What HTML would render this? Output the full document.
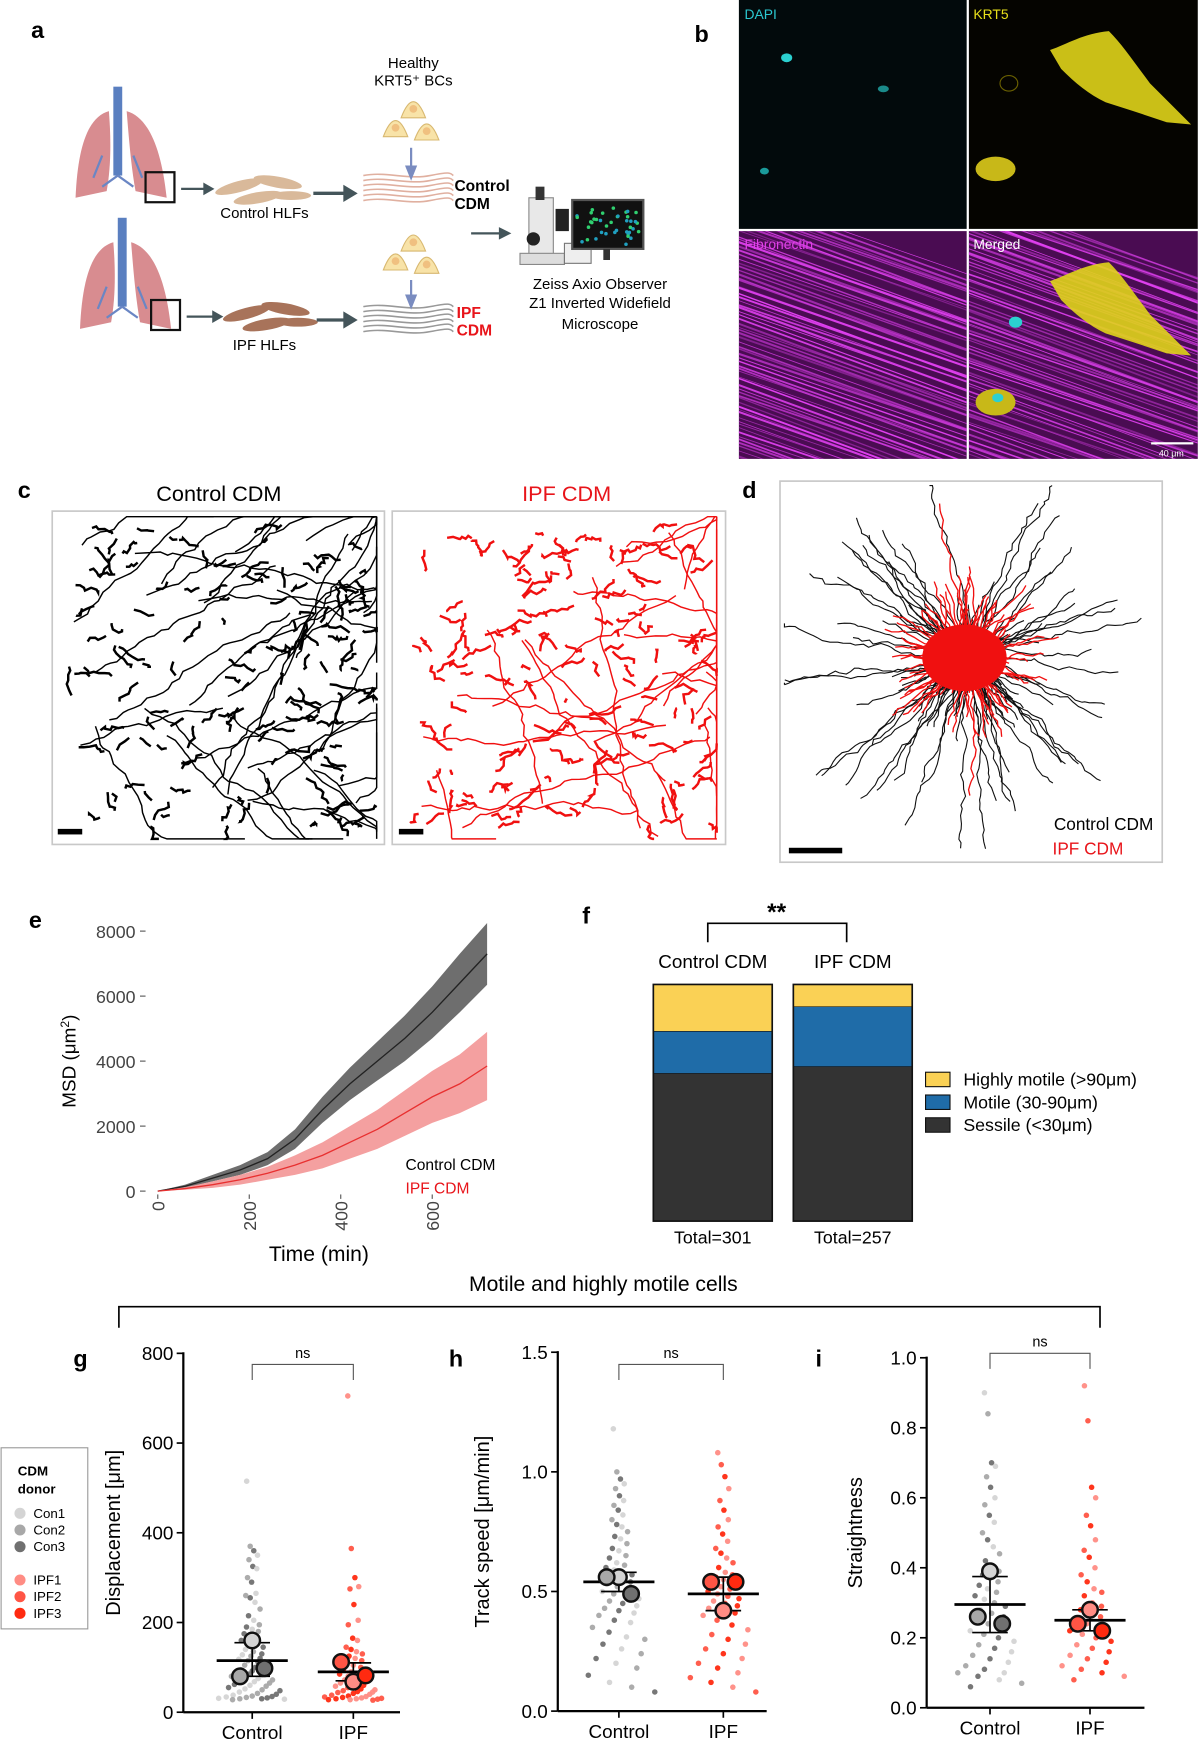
<!DOCTYPE html>
<html><head><meta charset="utf-8">
<style>
html,body{margin:0;padding:0;background:#fff;}
svg{display:block;font-family:"Liberation Sans",Arial,sans-serif;}
</style></head>
<body>
<svg id="fig" width="1200" height="1743" viewBox="0 0 1080 1568.7" xmlns="http://www.w3.org/2000/svg">
<g font-weight="bold" font-size="21">
<text x="28" y="34">a</text><text x="625" y="38">b</text><text x="16" y="448">c</text>
<text x="668" y="448">d</text><text x="26" y="835">e</text><text x="524" y="831">f</text>
<text x="66" y="1230">g</text><text x="404" y="1230">h</text><text x="734" y="1230">i</text>
</g>

<g id="panelA">
  <g id="lung1">
    <path d="M98,100 C80,105 70,130 68,178 L96,172 C100,150 100,125 98,100Z" fill="#d88c90"/>
    <path d="M114,100 C132,105 145,130 150,178 L122,172 C118,150 116,125 114,100Z" fill="#d88c90"/>
    <rect x="102" y="78" width="8" height="80" fill="#5a7fc0"/>
    <path d="M106,158 L92,168 M106,158 L120,168 M92,140 L84,160 M120,140 L128,160" stroke="#6a86c4" stroke-width="2" fill="none"/>
    <rect x="131" y="155" width="26" height="27" fill="none" stroke="#111" stroke-width="2"/>
  </g>
  <g id="lung2">
    <path d="M102,218 C84,223 74,248 72,296 L100,290 C104,268 104,243 102,218Z" fill="#d88c90"/>
    <path d="M118,218 C136,223 149,248 154,296 L126,290 C122,268 120,243 118,218Z" fill="#d88c90"/>
    <rect x="106" y="196" width="8" height="80" fill="#5a7fc0"/>
    <path d="M110,276 L96,286 M110,276 L124,286 M96,258 L88,278 M124,258 L132,278" stroke="#6a86c4" stroke-width="2" fill="none"/>
    <rect x="136" y="270" width="26" height="27" fill="none" stroke="#111" stroke-width="2"/>
  </g>
  <g fill="#d9b99a">
    <ellipse cx="215" cy="168" rx="22" ry="5" transform="rotate(-15 215 168)"/>
    <ellipse cx="250" cy="164" rx="22" ry="5" transform="rotate(10 250 164)"/>
    <ellipse cx="232" cy="178" rx="22" ry="5" transform="rotate(-10 232 178)"/>
    <ellipse cx="262" cy="176" rx="18" ry="4"/>
  </g>
  <g fill="#a8735a">
    <ellipse cx="222" cy="282" rx="22" ry="5" transform="rotate(-15 222 282)"/>
    <ellipse cx="257" cy="278" rx="22" ry="5" transform="rotate(10 257 278)"/>
    <ellipse cx="240" cy="292" rx="22" ry="5" transform="rotate(-10 240 292)"/>
    <ellipse cx="268" cy="290" rx="18" ry="4"/>
  </g>
  <g id="cdmLines"></g>
  <g id="bcells"></g>
  <g stroke="#44555a" stroke-width="2" fill="#44555a">
    <line x1="163" y1="170" x2="184" y2="170"/><path d="M184,166 L191,170 L184,174Z"/>
    <line x1="168" y1="285" x2="192" y2="285"/><path d="M192,281 L199,285 L192,289Z"/>
    <line x1="282" y1="174" x2="312" y2="174" stroke-width="3"/><path d="M310,168 L320,174 L310,180Z"/>
    <line x1="285" y1="288" x2="312" y2="288" stroke-width="3"/><path d="M310,282 L320,288 L310,294Z"/>
    <line x1="424" y1="210" x2="450" y2="210"/><path d="M450,206 L458,210 L450,214Z"/>
  </g>
  <g stroke="#7a8cc0" stroke-width="2" fill="#7a8cc0">
    <line x1="370" y1="133" x2="370" y2="152"/><path d="M366,150 L370,160 L374,150Z"/>
    <line x1="370" y1="252" x2="370" y2="268"/><path d="M366,266 L370,276 L374,266Z"/>
  </g>
  <g>
    <rect x="476" y="178" width="22" height="55" fill="#e8e8e8" stroke="#888"/>
    <rect x="468" y="228" width="40" height="10" fill="#ddd" stroke="#888"/>
    <circle cx="480" cy="215" r="6" fill="#222"/><rect x="482" y="168" width="8" height="12" fill="#333"/>
    <rect x="500" y="188" width="12" height="20" fill="#222"/>
    <rect x="508" y="219" width="24" height="18" fill="#eee" stroke="#777"/>
    <rect x="515" y="180" width="64" height="44" fill="#111" stroke="#555" stroke-width="2"/>
    <rect x="543" y="224" width="6" height="10" fill="#333"/>
    <g id="monitorDots"></g>
  </g>
  <g font-size="13.5" text-anchor="middle">
    <text x="372" y="61">Healthy</text><text x="372" y="77">KRT5⁺ BCs</text>
    <text x="238" y="196">Control HLFs</text><text x="238" y="315">IPF HLFs</text>
    <text x="540" y="260">Zeiss Axio Observer</text><text x="540" y="277">Z1 Inverted Widefield</text>
    <text x="540" y="296">Microscope</text>
    <text x="409" y="172" text-anchor="start" font-weight="bold" font-size="14">Control</text>
    <text x="409" y="188" text-anchor="start" font-weight="bold" font-size="14">CDM</text>
    <text x="411" y="286" text-anchor="start" font-weight="bold" font-size="14" fill="#e8141a">IPF</text>
    <text x="411" y="302" text-anchor="start" font-weight="bold" font-size="14" fill="#e8141a">CDM</text>
  </g>
</g>

<g id="panelB">
  <defs>
    <clipPath id="cpFib"><rect x="665" y="208" width="205" height="205"/></clipPath>
    <clipPath id="cpMer"><rect x="872" y="208" width="206" height="205"/></clipPath>
  </defs>
  <rect x="665" y="0" width="205" height="206" fill="#020a0c"/>
  <rect x="872" y="0" width="206" height="206" fill="#050400"/>
  <rect x="665" y="208" width="205" height="205" fill="#4a0c52"/>
  <rect x="872" y="208" width="206" height="205" fill="#4a0c52"/>
  <g id="fibLines" clip-path="url(#cpFib)"></g>
  <g id="merLines" clip-path="url(#cpMer)"></g>
  <ellipse cx="708" cy="52" rx="5" ry="4" fill="#2bd0d0"/><ellipse cx="795" cy="80" rx="5" ry="3" fill="#1a8a8a"/>
  <ellipse cx="688" cy="154" rx="4" ry="3" fill="#1a9a9a"/>
  <path d="M945,45 C960,40 975,30 998,28 C1010,40 1020,55 1035,75 L1072,112 L1050,110 L1020,100 L995,92 C980,85 968,75 955,62Z" fill="#e0d41a" opacity="0.9"/>
  <ellipse cx="896" cy="152" rx="18" ry="11" fill="#c8b818"/>
  <ellipse cx="908" cy="75" rx="8" ry="7" fill="none" stroke="#6a6000"/>
  <path d="M945,253 C960,248 975,238 998,236 C1010,248 1020,263 1035,283 L1072,320 L1050,318 L1020,308 L995,300 C980,293 968,283 955,270Z" fill="#e0d41a" opacity="0.9"/>
  <ellipse cx="896" cy="362" rx="18" ry="12" fill="#c8b818"/>
  <ellipse cx="914" cy="290" rx="6" ry="5" fill="#2bd0d0"/><ellipse cx="898" cy="358" rx="5" ry="4" fill="#2bd0d0"/>
  <rect x="1036" y="398" width="38" height="2" fill="#fff"/>
  <g font-size="12.5">
    <text x="670" y="17" fill="#2bc8d0">DAPI</text><text x="876" y="17" fill="#e8e01a">KRT5</text>
    <text x="670" y="224" fill="#e040e8">Fibronectin</text><text x="876" y="224" fill="#fff">Merged</text>
    <text x="1043" y="411" fill="#fff" font-size="8">40 μm</text>
  </g>
</g>

<g id="panelC">
  <text x="197" y="451" font-size="19.5" text-anchor="middle">Control CDM</text>
  <text x="510" y="451" font-size="19.5" text-anchor="middle" fill="#e8141a">IPF CDM</text>
  <rect x="47" y="460" width="299" height="300" fill="none" stroke="#c8c8c8" stroke-width="1.5"/>
  <rect x="353" y="460" width="300" height="300" fill="none" stroke="#c8c8c8" stroke-width="1.5"/>
  <g id="tracksCon"></g><g id="tracksIpf"></g>
  <rect x="52" y="746" width="22" height="5" fill="#000"/><rect x="359" y="746" width="22" height="5" fill="#000"/>
</g>

<g id="panelD">
  <rect x="702" y="433" width="344" height="343" fill="none" stroke="#c8c8c8" stroke-width="1.5"/>
  <g id="starCon"></g><g id="starIpf"></g>
  <rect x="710" y="763" width="48" height="5" fill="#000"/>
  <text x="1038" y="747" font-size="15.5" text-anchor="end">Control CDM</text>
  <text x="1011" y="769" font-size="15.5" text-anchor="end" fill="#e8141a">IPF CDM</text>
</g>

<g id="panelE"></g>
<g id="panelF"></g>

<g>
  <text x="543" y="1162" font-size="19" text-anchor="middle">Motile and highly motile cells</text>
  <path d="M107,1195 L107,1176 L990,1176 L990,1195" fill="none" stroke="#000" stroke-width="1.5"/>
</g>

<g>
  <rect x="1" y="1303" width="78" height="163" fill="#fff" stroke="#999"/>
  <text x="16" y="1328" font-size="12" font-weight="bold">CDM</text>
  <text x="16" y="1344" font-size="12" font-weight="bold">donor</text>
  <g id="legendItems"></g>
</g>

<g id="panelG"></g>
<g id="panelH"></g>
<g id="panelI"></g>
</svg>

<script>
const msdTimes = [0,60,120,180,240,300,360,420,480,540,600,660,720];
const msdControl = [0,150,400,650,1000,1600,2500,3300,4000,4700,5500,6400,7300];
const msdControlErr = [0,50,100,150,200,300,400,500,600,700,800,900,950];
const msdIpf = [0,80,200,350,550,800,1100,1500,1900,2400,2900,3300,3850];
const msdIpfErr = [0,40,100,150,200,300,400,500,600,700,800,900,1050];
const msdTicksX = [0,200,400,600];
const msdTicksY = [0,2000,4000,6000,8000];

const motCategories = ["Control CDM","IPF CDM"];
const motTotals = ["Total=301","Total=257"];
const sessilePct = [62.4,65.3];
const motilePct = [17.8,25.3];
const highlyPct = [19.8,9.4];
const motLegend = ["Highly motile (>90μm)","Motile (30-90μm)","Sessile (<30μm)"];

const groups = ["Control","IPF"];
const dispControl = [515,370,360,350,340,325,320,300,290,265,260,255,245,230,215,205,195,190,185,180,175,170,165,160,155,150,145,140,135,130,128,125,120,118,115,112,110,105,100,98,95,92,90,88,85,82,80,78,75,72,70,68,65,62,60,58,55,52,50,48,45,42,40,38,36,35,34,33,32,31,30,30,29,28];
const dispIpf = [705,365,300,280,275,240,205,195,165,160,145,140,135,130,125,120,115,110,105,100,95,90,88,85,80,78,75,72,70,68,65,62,60,58,55,52,50,48,46,45,44,42,40,38,36,35,34,33,32,31,30,30,29,28,28,27];
const dispDonorMeans = [[160,80,98],[68,112,82]];
const dispMean = [115,90];
const dispErr = [[80,155],[70,110]];
const speedControl = [1.18,1.0,0.97,0.95,0.93,0.9,0.88,0.86,0.84,0.82,0.8,0.78,0.77,0.75,0.73,0.72,0.7,0.68,0.67,0.65,0.64,0.62,0.61,0.6,0.59,0.58,0.57,0.56,0.55,0.54,0.53,0.52,0.51,0.5,0.49,0.48,0.47,0.46,0.45,0.44,0.43,0.42,0.41,0.4,0.38,0.37,0.35,0.33,0.31,0.3,0.28,0.26,0.24,0.22,0.2,0.18,0.15,0.12,0.1,0.08];
const speedIpf = [1.08,1.03,0.98,0.93,0.88,0.84,0.8,0.77,0.74,0.71,0.68,0.66,0.64,0.62,0.6,0.58,0.57,0.56,0.55,0.54,0.53,0.52,0.51,0.5,0.49,0.48,0.47,0.46,0.45,0.44,0.43,0.42,0.41,0.4,0.38,0.36,0.34,0.32,0.3,0.28,0.26,0.24,0.22,0.2,0.18,0.16,0.14,0.12,0.1,0.08];
const speedDonorMeans = [[0.56,0.56,0.49],[0.42,0.54,0.54]];
const speedMean = [0.54,0.49];
const speedErr = [[0.50,0.58],[0.42,0.56]];
const straightControl = [0.9,0.84,0.7,0.69,0.66,0.63,0.6,0.58,0.55,0.53,0.5,0.48,0.46,0.44,0.42,0.4,0.39,0.38,0.37,0.36,0.35,0.34,0.33,0.32,0.31,0.3,0.29,0.28,0.27,0.26,0.25,0.24,0.23,0.22,0.21,0.2,0.19,0.18,0.17,0.16,0.15,0.14,0.13,0.12,0.11,0.1,0.1,0.09,0.08,0.07,0.06];
const straightIpf = [0.92,0.82,0.63,0.6,0.55,0.52,0.48,0.45,0.43,0.4,0.38,0.36,0.34,0.33,0.32,0.3,0.29,0.28,0.27,0.26,0.25,0.24,0.23,0.22,0.21,0.2,0.19,0.18,0.17,0.16,0.15,0.14,0.13,0.12,0.11,0.1,0.09,0.08];
const straightDonorMeans = [[0.39,0.26,0.24],[0.28,0.24,0.22]];
const straightMean = [0.295,0.25];
const straightErr = [[0.215,0.375],[0.22,0.28]];
const donorNames = ["Con1","Con2","Con3","IPF1","IPF2","IPF3"];

const NS = "http://www.w3.org/2000/svg";
function mk(tag, attrs, parent){const e=document.createElementNS(NS,tag);for(const k in attrs)e.setAttribute(k,attrs[k]);if(parent)parent.appendChild(e);return e;}
function txt(str, attrs, parent){const e=mk("text",attrs,parent);e.textContent=str;return e;}
let seed=12345;function rnd(){seed=(seed*1103515245+12345)%2147483648;return seed/2147483648;}
const donorCols=[["#d4d4d4","#a8a8a8","#707070"],["#ff8c84","#ff5545","#ff2a10"]];

(function(){
  const g=document.getElementById("cdmLines");
  for(let k=0;k<2;k++){const y0=k?276:158;const col=k?"#999":"#e0b0a0";
    for(let i=0;i<6;i++){const y=y0+i*4.5;mk("path",{d:`M327,${y} C347,${y-4} 367,${y+4} 387,${y} S405,${y-2} 408,${y}`,stroke:col,"stroke-width":1.4,fill:"none"},g);}}
  const b=document.getElementById("bcells");
  [[372,95],[356,112],[384,115],[372,215],[356,232],[384,235]].forEach(p=>{
    mk("path",{d:`M${p[0]-11},${p[1]+11} Q${p[0]},${p[1]-18} ${p[0]+11},${p[1]+11}Z`,fill:"#f8e3a8",stroke:"#d8b870"},b);
    mk("circle",{cx:p[0],cy:p[1]+3,r:3.5,fill:"#f0c080"},b);});
  const m=document.getElementById("monitorDots");
  for(let i=0;i<40;i++)mk("circle",{cx:519+rnd()*56,cy:184+rnd()*36,r:1.6,fill:rnd()>0.5?"#30d070":"#20a0c0"},m);
})();
["fibLines","merLines"].forEach((id,k)=>{
  const g=document.getElementById(id);const x0=k?872:665;
  for(let i=0;i<110;i++){const yy=170+i*3.4+rnd()*3;const op=0.35+rnd()*0.65;
    mk("line",{x1:x0-10,y1:yy,x2:x0+215,y2:yy+75+rnd()*10,stroke:"#e040f0","stroke-width":0.6+rnd()*1.4,opacity:op},g);}
});
function tracks(id,x0,col){
  const g=document.getElementById(id);
  for(let i=0;i<170;i++){let x=x0+15+rnd()*270,y=475+rnd()*270;const long=rnd()<0.18;const n=long?18+Math.floor(rnd()*20):3+Math.floor(rnd()*6);
    const ang=(rnd()<0.6?-0.5:0.7)+ (rnd()-0.5)*1.5;let d=`M${x.toFixed(1)},${y.toFixed(1)}`;
    for(let j=0;j<n;j++){const s=long?7:3;x+=Math.cos(ang)*s+(rnd()-0.5)*6;y+=Math.sin(ang)*s+(rnd()-0.5)*6;
      x=Math.max(x0+5,Math.min(x0+292,x));y=Math.max(465,Math.min(755,y));d+=` L${x.toFixed(1)},${y.toFixed(1)}`;}
    mk("path",{d:d,stroke:col,"stroke-width":long?1.3:2.2,fill:"none"},g);}
}
tracks("tracksCon",47,"#000");tracks("tracksIpf",353,"#f01010");
function star(id,col,n,maxR,w){
  const g=document.getElementById(id);
  for(let i=0;i<n;i++){let x=870,y=592;const a=rnd()*Math.PI*2;const L=(rnd()<0.3?0.6+rnd()*0.4:rnd()*0.5)*maxR;const steps=Math.max(3,Math.floor(L/5));
    let d=`M${x},${y}`;for(let j=0;j<steps;j++){x+=Math.cos(a)*5+(rnd()-0.5)*5;y+=Math.sin(a)*5+(rnd()-0.5)*5;
      x=Math.max(706,Math.min(1042,x));y=Math.max(437,Math.min(772,y));d+=` L${x.toFixed(1)},${y.toFixed(1)}`;}
    mk("path",{d:d,stroke:col,"stroke-width":w,fill:"none"},g);}
}
star("starCon","#111",160,175,1);star("starIpf","#f01010",220,80,1.2);star("starIpf","#f01010",8,180,1.2);
mk("ellipse",{cx:868,cy:592,rx:38,ry:30,fill:"#f01010"},document.getElementById("starIpf"));

(function(){
  const g=document.getElementById("panelE");
  const X=t=>142+t*(389-142)/600, Y=v=>1072-v*(1072-838)/8000;
  msdTicksY.forEach(v=>{const t=txt(String(v),{x:122,y:Y(v)+6,"font-size":16,"text-anchor":"end",fill:"#444"},g);
    
    mk("line",{x1:126,y1:Y(v),x2:131,y2:Y(v),stroke:"#555"},g);});
  msdTicksX.forEach(v=>{const t=txt(String(v),{x:0,y:0,"font-size":16,"text-anchor":"end",fill:"#444",transform:`translate(${X(v)+6},1081) rotate(-90)`},g);
    
    mk("line",{x1:X(v),y1:1075,x2:X(v),y2:1079,stroke:"#555"},g);});
  function band(m,e,fill,stroke,name){
    let up=msdTimes.map((t,i)=>`${X(t).toFixed(1)},${Y(m[i]+e[i]).toFixed(1)}`);
    let dn=msdTimes.map((t,i)=>`${X(t).toFixed(1)},${Y(Math.max(0,m[i]-e[i])).toFixed(1)}`).reverse();
    const p=mk("polygon",{points:up.concat(dn).join(" "),fill:fill},g);
    
    const l=mk("polyline",{points:msdTimes.map((t,i)=>`${X(t).toFixed(1)},${Y(m[i]).toFixed(1)}`).join(" "),fill:"none",stroke:stroke,"stroke-width":1.2},g);
    }
  band(msdControl,msdControlErr,"#6e6e6e","#222","control-msd");
  band(msdIpf,msdIpfErr,"#f4a0a0","#e83030","ipf-msd");
  const yt=txt("MSD (μm",{x:0,y:0,"font-size":17,"text-anchor":"middle",transform:"translate(68,955) rotate(-90)"},g);
  const sup=mk("tspan",{"font-size":11,dy:-6},yt);sup.textContent="2";const cl=mk("tspan",{dy:6},yt);cl.textContent=")";
  
  const xt=txt("Time (min)",{x:287,y:1135,"font-size":19,"text-anchor":"middle"},g);
  
  txt("Control CDM",{x:365,y:1053,"font-size":14},g);
  txt("IPF CDM",{x:365,y:1074,"font-size":14,fill:"#e8141a"},g);
})();

(function(){
  const g=document.getElementById("panelF");
  const xs=[588,714],w=107,top=886,bot=1099,H=bot-top;
  const cols=["#fad155","#1f6ca8","#333333"];
  motCategories.forEach((c,i)=>{
    let y=bot;
    [[sessilePct[i],cols[2],"sessile"],[motilePct[i],cols[1],"motile"],[highlyPct[i],cols[0],"highly-motile"]].forEach(s=>{
      const h=s[0]/100*H;y-=h;const r=mk("rect",{x:xs[i],y:y,width:w,height:h,fill:s[1],stroke:"#111","stroke-width":0.5},g);
      });
    mk("rect",{x:xs[i],y:top,width:w,height:H,fill:"none",stroke:"#111","stroke-width":1.5},g);
    txt(c,{x:xs[i]+w/2,y:871,"font-size":17,"text-anchor":"middle"},g);
    txt(motTotals[i],{x:xs[i]+w/2,y:1119,"font-size":16,"text-anchor":"middle"},g);
  });
  mk("path",{d:"M637,848 L637,831 L762,831 L762,848",fill:"none",stroke:"#000","stroke-width":1.5},g);
  txt("**",{x:699,y:828,"font-size":22,"font-weight":"bold","text-anchor":"middle"},g);
  motLegend.forEach((l,i)=>{const y=965+i*20.5;
    const r=mk("rect",{x:833,y:y,width:22,height:13,fill:cols[i],stroke:"#111"},g);
    
    txt(l,{x:867,y:y+12,"font-size":16},g);});
})();

(function(){
  const g=document.getElementById("legendItems");
  donorNames.forEach((n,i)=>{const y=i<3?1362+i*15:1422+(i-3)*15;const c=donorCols[i<3?0:1][i%3];
    const d=mk("circle",{cx:18,cy:y,r:5,fill:c},g);
    txt(n,{x:30,y:y+4,"font-size":12},g);});
})();

function dotPlot(id,ax,xEnd,y0,yTop,vMax,ticks,tickFmt,title,titleX,data,donorMeans,means,errs,cx,nsY){
  const g=document.getElementById(id);
  const Y=v=>y0-v*(y0-yTop)/vMax;
  mk("line",{x1:ax,y1:yTop-1,x2:ax,y2:y0,stroke:"#000","stroke-width":2},g);
  mk("line",{x1:ax,y1:y0,x2:xEnd,y2:y0,stroke:"#000","stroke-width":2},g);
  ticks.forEach(v=>{mk("line",{x1:ax-6,y1:Y(v),x2:ax,y2:Y(v),stroke:"#000","stroke-width":1.5},g);
    const t=txt(tickFmt(v),{x:ax-9,y:Y(v)+6,"font-size":17,"text-anchor":"end"},g);
    });
  const tt=txt(title,{x:0,y:0,"font-size":18,"text-anchor":"middle",transform:`translate(${titleX},${Y(vMax/2)}) rotate(-90)`},g);
  
  groups.forEach((gr,k)=>{
    mk("line",{x1:cx[k],y1:y0,x2:cx[k],y2:y0+6,stroke:"#000","stroke-width":1.5},g);
    const lab=txt(gr,{x:cx[k],y:y0+24,"font-size":17,"text-anchor":"middle"},g);
    
    const arr=data[k];const n=arr.length;
    arr.forEach((v,i)=>{const W=10+56*Math.pow(i/n,1.5);const off=(((i*7919)%23)/22-0.5)*W;
      const c=mk("circle",{cx:cx[k]+off,cy:Y(v),r:2.5,fill:donorCols[k][i%3],opacity:0.95},g);
      });
    mk("line",{x1:cx[k]-32,y1:Y(means[k]),x2:cx[k]+32,y2:Y(means[k]),stroke:"#000","stroke-width":2.5},g);
    mk("line",{x1:cx[k],y1:Y(errs[k][0]),x2:cx[k],y2:Y(errs[k][1]),stroke:"#000","stroke-width":1.5},g);
    [0,1].forEach(j=>mk("line",{x1:cx[k]-16,y1:Y(errs[k][j]),x2:cx[k]+16,y2:Y(errs[k][j]),stroke:"#000","stroke-width":1.5},g));
    donorMeans[k].forEach((v,j)=>{const c=mk("circle",{cx:cx[k]+[0,-11,11][j],cy:Y(v),r:7,fill:donorCols[k][j],stroke:"#111","stroke-width":2.2},g);
      });
  });
  mk("path",{d:`M${cx[0]},${nsY+14} L${cx[0]},${nsY} L${cx[1]},${nsY} L${cx[1]},${nsY+14}`,fill:"none",stroke:"#555","stroke-width":1},g);
  txt("ns",{x:(cx[0]+cx[1])/2,y:nsY-6,"font-size":13,"text-anchor":"middle"},g);
}
dotPlot("panelG",165,360,1541,1218,800,[0,200,400,600,800],v=>String(v),"Displacement [μm]",108,[dispControl,dispIpf],dispDonorMeans,dispMean,dispErr,[227,318],1228);
dotPlot("panelH",502,690,1540,1217,1.5,[0,0.5,1.0,1.5],v=>v.toFixed(1),"Track speed [μm/min]",440,[speedControl,speedIpf],speedDonorMeans,speedMean,speedErr,[557,651],1228);
dotPlot("panelI",834,1030,1537,1222,1.0,[0,0.2,0.4,0.6,0.8,1.0],v=>v.toFixed(1),"Straightness",776,[straightControl,straightIpf],straightDonorMeans,straightMean,straightErr,[891,981],1218);
</script>
</body></html>
